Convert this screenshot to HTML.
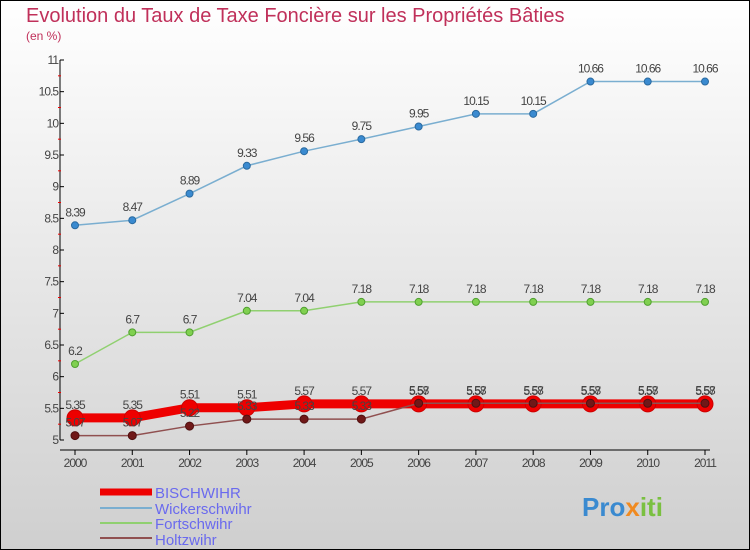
<!DOCTYPE html>
<html><head><meta charset="utf-8"><style>
body{margin:0}
#c{width:750px;height:550px;position:relative;overflow:hidden}
svg text{font-family:"Liberation Sans",sans-serif}
</style></head><body>
<div id="c">
<svg id="s" width="750" height="550" xmlns="http://www.w3.org/2000/svg">
<defs><linearGradient id="bg" x1="0" y1="0" x2="0" y2="1"><stop offset="0" stop-color="#ffffff"/><stop offset="1" stop-color="#cfcfcf"/></linearGradient></defs>
<rect x="0.5" y="0.5" width="749" height="549" fill="url(#bg)" stroke="#000"/>
<text x="26" y="22" font-size="20" fill="#c0305a">Evolution du Taux de Taxe Foncière sur les Propriétés Bâties</text>
<text x="26" y="40" font-size="12" fill="#c0305a">(en %)</text>
<g id="axes"></g><g id="series"></g>
<g>
<line x1="100" y1="492" x2="152" y2="492" stroke="#e00" stroke-width="7"/>
<text x="155" y="498" font-size="15" fill="#6a6aee">BISCHWIHR</text>
<line x1="100" y1="508" x2="152" y2="508" stroke="#7aaed0" stroke-width="2"/>
<text x="155" y="514" font-size="15" fill="#6a6aee">Wickerschwihr</text>
<line x1="100" y1="523" x2="152" y2="523" stroke="#90d070" stroke-width="2"/>
<text x="155" y="529" font-size="15" fill="#6a6aee">Fortschwihr</text>
<line x1="100" y1="538" x2="152" y2="538" stroke="#905050" stroke-width="2"/>
<text x="155" y="545" font-size="15" fill="#6a6aee">Holtzwihr</text>
</g>
<text x="582" y="516" font-size="26" font-weight="bold"><tspan fill="#3a8ad0">Pro</tspan><tspan fill="#f08a20">x</tspan><tspan fill="#7ac040">iti</tspan></text>
</svg></div>
<script>
const years=["2000","2001","2002","2003","2004","2005","2006","2007","2008","2009","2010","2011"];
const yTicks=[5,5.5,6,6.5,7,7.5,8,8.5,9,9.5,10,10.5,11];
const bischwihr=[5.35,5.35,5.51,5.51,5.57,5.57,5.57,5.57,5.57,5.57,5.57,5.57];
const wickerschwihr=[8.39,8.47,8.89,9.33,9.56,9.75,9.95,10.15,10.15,10.66,10.66,10.66];
const fortschwihr=[6.2,6.7,6.7,7.04,7.04,7.18,7.18,7.18,7.18,7.18,7.18,7.18];
const holtzwihr=[5.07,5.07,5.22,5.33,5.33,5.33,5.58,5.58,5.58,5.58,5.58,5.58];
const NS="http://www.w3.org/2000/svg";
const x=i=>75+i*(630/11), y=v=>440-(v-5)*(380/6);
function mk(t,a,p){const e=document.createElementNS(NS,t);for(const k in a)e.setAttribute(k,a[k]);p.appendChild(e);return e;}
const ax=document.getElementById('axes');
const yl=mk('line',{x1:60,y1:60,x2:60,y2:440,stroke:'#000'},ax);


const xl=mk('line',{x1:60,y1:450,x2:710,y2:450,stroke:'#000'},ax);


yTicks.forEach(v=>{mk('line',{x1:60,y1:y(v),x2:64,y2:y(v),stroke:'#000'},ax);
 if(v<11)mk('line',{x1:58,y1:y(v+0.25),x2:61,y2:y(v+0.25),stroke:'#e00'},ax);
 const t=mk('text',{x:58,y:y(v)+4,'font-size':12,fill:'#444','text-anchor':'end','letter-spacing':'-1'},ax);t.textContent=v;
 
 });
years.forEach((yr,i)=>{mk('line',{x1:x(i),y1:450,x2:x(i),y2:455,stroke:'#000'},ax);
 const t=mk('text',{x:x(i),y:467,'font-size':12,fill:'#444','text-anchor':'middle','letter-spacing':'-1'},ax);t.textContent=yr;
 
 });
const sg=document.getElementById('series');
function series(name,d,color,w,r,fill,stroke){
 const g=mk('g',{},sg);
 
 
 mk('polyline',{points:d.map((v,i)=>x(i)+','+y(v)).join(' '),fill:'none',stroke:color,'stroke-width':w},g);
 d.forEach((v,i)=>{const c=mk('circle',{cx:x(i),cy:y(v),r:r,fill:fill,stroke:stroke,'stroke-width':1},g);
  
  
  const t=mk('text',{x:x(i),y:y(v)-9,'font-size':12,fill:'#444','text-anchor':'middle','letter-spacing':'-1'},g);t.textContent=v;});
}
series('wickerschwihr',wickerschwihr,'#7aaed0',1.5,3.5,'#3a8ad0','#2a6aa0');
series('fortschwihr',fortschwihr,'#90d070',1.5,3.5,'#80d050','#50a030');
series('bischwihr',bischwihr,'#e00',9,8,'#e00','#c00');
series('holtzwihr',holtzwihr,'#905050',1.5,4,'#701818','#501010');
</script>
</body></html>
